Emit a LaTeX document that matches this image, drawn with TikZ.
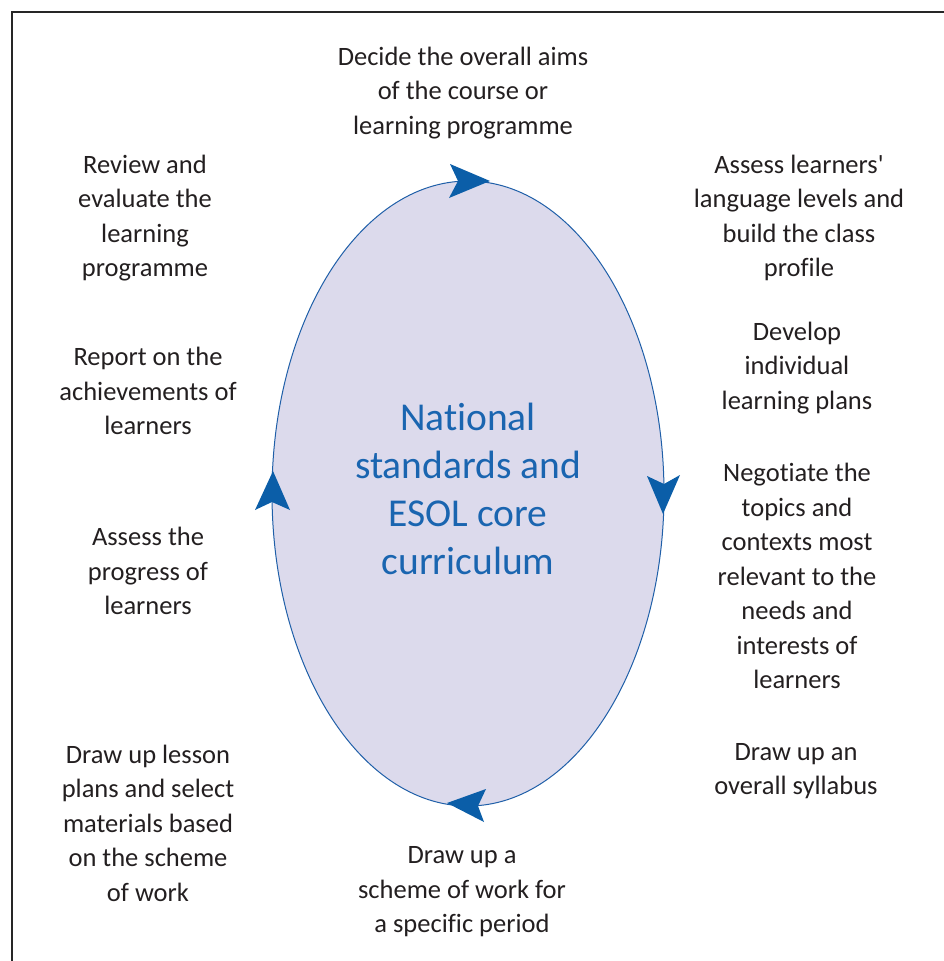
\documentclass[tikz,border=0pt]{standalone}
\usepackage{fontspec}
\setmainfont[Ligatures={TeX,CommonOff}]{Carlito}
\usetikzlibrary{shapes.geometric}
\definecolor{txt}{HTML}{231F20}
\definecolor{ringfill}{HTML}{DCDAEC}
\definecolor{ringline}{HTML}{1F5FA8}
\definecolor{arrowblue}{HTML}{0B5EA8}
\definecolor{centreblue}{HTML}{1A65B0}
\tikzset{
  lab/.style={align=center, text=txt, inner sep=0pt, font=\fontsize{26.5}{34.5}\selectfont},
  centrelab/.style={align=center, text=centreblue, inner sep=0pt, font=\fontsize{39.5}{48}\selectfont},
  ahead/.style={fill=arrowblue, draw=none},
}
\begin{document}
\begin{tikzpicture}[x=1pt,y=-1pt]
\useasboundingbox (0,0) rectangle (943,961);
\draw[line width=1.8pt, black!85] (12,965) -- (12,12) -- (947,12);
\node[ellipse, draw=ringline, line width=1pt, fill=ringfill, minimum width=392pt, minimum height=625pt, inner sep=0pt] (cyc) at (468,493.5) {};
% arrowheads
\fill[ahead] (490,181) -- (450,164) -- (458,181) -- (449,198) -- cycle;
\fill[ahead] (663,514) -- (647,476) -- (664,484) -- (680,475) -- cycle;
\fill[ahead] (273,471) -- (290,510) -- (272,502) -- (255,510) -- cycle;
\fill[ahead] (447,803) -- (486,789) -- (478,806) -- (484,822) -- cycle;
% labels
\node[centrelab] (centre) at (468,489) {National\\standards and\\ESOL core\\curriculum};
\node[lab] (aims) at (463,93) {Decide the overall aims\\of the course or\\learning programme};
\node[lab] (assess) at (799,218) {Assess learners\textquotesingle\\language levels and\\build the class\\profile};
\node[lab] (ilp) at (797,368) {Develop\\individual\\learning plans};
\node[lab] (neg) at (797,576) {Negotiate the\\topics and\\contexts most\\relevant to the\\needs and\\interests of\\learners};
\node[lab] (syll) at (796,771) {Draw up an\\overall syllabus};
\node[lab] (scheme) at (462,892) {Draw up a\\scheme of work for\\a specific period};
\node[lab] (lesson) at (148,823) {Draw up lesson\\plans and select\\materials based\\on the scheme\\of work};
\node[lab] (progress) at (148,571) {Assess the\\progress of\\learners};
\node[lab] (report) at (148,391) {Report on the\\achievements of\\learners};
\node[lab] (review) at (145,218) {Review and\\evaluate the\\learning\\programme};
\end{tikzpicture}
\end{document}
